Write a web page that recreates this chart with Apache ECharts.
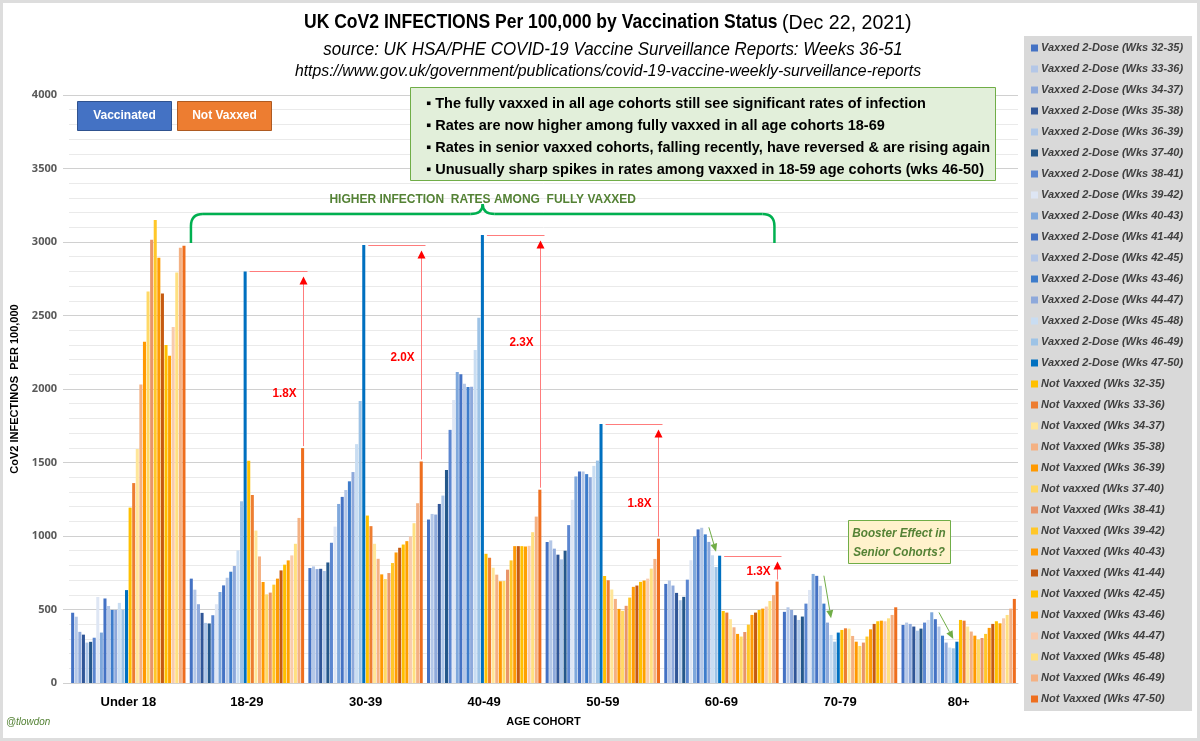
<!DOCTYPE html>
<html><head><meta charset="utf-8">
<script src="https://cdn.jsdelivr.net/npm/echarts@6/dist/echarts.min.js"></script>
<style>html,body{margin:0;padding:0;background:#fff}#c{width:1200px;height:741px}</style>
</head><body><div id="c"></div>
<script>
// ---------- DATA ----------
const cohorts = ['Under 18','18-29','30-39','40-49','50-59','60-69','70-79','80+'];
const vaxNames = ['Vaxxed 2-Dose (Wks 32-35)','Vaxxed 2-Dose (Wks 33-36)','Vaxxed 2-Dose (Wks 34-37)','Vaxxed 2-Dose (Wks 35-38)','Vaxxed 2-Dose (Wks 36-39)','Vaxxed 2-Dose (Wks 37-40)','Vaxxed 2-Dose (Wks 38-41)','Vaxxed 2-Dose (Wks 39-42)','Vaxxed 2-Dose (Wks 40-43)','Vaxxed 2-Dose (Wks 41-44)','Vaxxed 2-Dose (Wks 42-45)','Vaxxed 2-Dose (Wks 43-46)','Vaxxed 2-Dose (Wks 44-47)','Vaxxed 2-Dose (Wks 45-48)','Vaxxed 2-Dose (Wks 46-49)','Vaxxed 2-Dose (Wks 47-50)'];
const unvaxNames = ['Not Vaxxed (Wks 32-35)','Not Vaxxed (Wks 33-36)','Not Vaxxed (Wks 34-37)','Not Vaxxed (Wks 35-38)','Not Vaxxed (Wks 36-39)','Not vaxxed (Wks 37-40)','Not Vaxxed (Wks 38-41)','Not Vaxxed (Wks 39-42)','Not Vaxxed (Wks 40-43)','Not Vaxxed (Wks 41-44)','Not Vaxxed (Wks 42-45)','Not Vaxxed (Wks 43-46)','Not Vaxxed (Wks 44-47)','Not Vaxxed (Wks 45-48)','Not Vaxxed (Wks 46-49)','Not Vaxxed (Wks 47-50)'];

// values per cohort, one entry per 4-week window (Wks 32-35 ... 47-50)
const vaxU18   = [478, 451, 348, 329, 275, 280, 308, 585, 343, 575, 524, 497, 497, 545, 497, 632];
const unvaxU18 = [1193, 1360, 1592, 2030, 2321, 2664, 3015, 3150, 2893, 2650, 2300, 2227, 2421, 2793, 2961, 2974];
const vax1829   = [710, 635, 536, 477, 409, 405, 461, 536, 619, 664, 716, 757, 796, 902, 1236, 2800];
const unvax1829 = [1512, 1279, 1037, 861, 687, 603, 615, 669, 710, 766, 805, 834, 868, 947, 1123, 1598];
const vax3039   = [782, 793, 775, 777, 762, 820, 954, 1064, 1218, 1266, 1313, 1372, 1435, 1625, 1919, 2980];
const unvax3039 = [1139, 1067, 947, 845, 739, 707, 748, 816, 888, 920, 942, 965, 997, 1087, 1223, 1507];
const vax4049   = [1112, 1150, 1146, 1218, 1275, 1449, 1722, 1926, 2115, 2100, 2036, 2014, 2016, 2265, 2484, 3048];
const unvax4049 = [879, 852, 784, 737, 692, 694, 771, 834, 931, 931, 931, 929, 933, 1026, 1132, 1315];
const vax5059   = [959, 970, 914, 873, 841, 900, 1074, 1246, 1405, 1439, 1439, 1421, 1400, 1477, 1513, 1762];
const unvax5059 = [728, 699, 636, 572, 504, 491, 525, 581, 654, 663, 688, 697, 710, 778, 844, 982];
const vax6069   = [674, 697, 663, 613, 563, 586, 703, 835, 998, 1045, 1056, 1011, 960, 869, 789, 866];
const unvax6069 = [490, 479, 434, 379, 334, 316, 347, 397, 463, 479, 497, 506, 520, 558, 599, 690];
const vax7079   = [484, 515, 497, 461, 429, 452, 540, 633, 742, 729, 661, 540, 411, 327, 281, 343];
const unvax7079 = [361, 372, 370, 320, 281, 252, 275, 316, 365, 402, 420, 424, 420, 440, 463, 515];
const vax80     = [395, 411, 402, 384, 356, 370, 411, 429, 481, 434, 384, 322, 275, 241, 236, 281];
const unvax80   = [429, 424, 384, 350, 322, 297, 306, 334, 375, 402, 420, 406, 440, 463, 506, 572];

const ratioLabels = ['1.8X','2.0X','2.3X','1.8X','1.3X'];   // cohorts 18-29 .. 60-69

// ---------- STYLE ----------
const vaxColors = ['#4472C4','#B4C7E7','#8FAADC','#2F5597','#ADC6E8','#24578A','#5B86D0','#DEE6F4','#7FA8DC','#4472C4','#B4C7E7','#3D7CCB','#8EA9DB','#C9DDF2','#9DC3E6','#0070C0'];
const unvaxColors = ['#FFC000','#ED7D31','#FFE699','#F4B183','#FF9900','#FFD966','#E8956A','#FFC729','#FF9B05','#C55A11','#FFC000','#FFA000','#F8CBAD','#FFE080','#F4B183','#EE6E1E'];
const F = '"Liberation Sans",Arial,sans-serif';

const vaxByCohort = [vaxU18, vax1829, vax3039, vax4049, vax5059, vax6069, vax7079, vax80];
const unvaxByCohort = [unvaxU18, unvax1829, unvax3039, unvax4049, unvax5059, unvax6069, unvax7079, unvax80];

const series = [];
vaxNames.forEach((n, s) => series.push({name: n, type: 'bar', data: vaxByCohort.map(c => c[s]), itemStyle: {color: vaxColors[s]}, barGap: '18%', barCategoryGap: '3.6%', animation: false}));
unvaxNames.forEach((n, s) => series.push({name: n, type: 'bar', data: unvaxByCohort.map(c => c[s]), itemStyle: {color: unvaxColors[s]}, barGap: '18%', barCategoryGap: '3.6%', animation: false}));

const chart = echarts.init(document.getElementById('c'), null, {renderer: 'canvas'});
const option = {
  backgroundColor: '#fff',
  animation: false,
  grid: {left: 69, right: 182, top: 95, bottom: 58},
  legend: {
    orient: 'vertical', left: 1024, top: 36, selectedMode: false,
    backgroundColor: '#D9D9D9', padding: [5, 9, 5, 7],
    itemWidth: 7, itemHeight: 7, itemGap: 7, icon: 'rect',
    textStyle: {fontFamily: F, fontStyle: 'italic', fontWeight: 'bold', fontSize: 11, color: '#404040', lineHeight: 14, padding: [0,0,0,-2]},
    data: vaxNames.concat(unvaxNames)
  },
  xAxis: {
    type: 'category', data: cohorts,
    axisLine: {lineStyle: {color: '#D0D0D0'}}, axisTick: {show: false},
    axisLabel: {fontFamily: F, fontWeight: 'bold', fontSize: 13, color: '#000', margin: 13},
    name: 'AGE COHORT', nameLocation: 'middle', nameGap: 33,
    nameTextStyle: {fontFamily: F, fontWeight: 'bold', fontSize: 11, color: '#000'}
  },
  yAxis: {
    type: 'value', min: 0, max: 4000, interval: 500,
    axisLine: {show: false}, axisTick: {show: true, length: 6, lineStyle: {color: '#D0D0D0'}},
    axisLabel: {fontFamily: '"Open Sans",sans-serif', fontWeight: 'bold', fontSize: 11, color: '#595959', margin: 12, formatter: v => String(v)},
    splitLine: {lineStyle: {color: '#D0D0D0'}},
    minorTick: {show: false, splitNumber: 5},
    minorSplitLine: {show: true, lineStyle: {color: '#EAEAEA'}},
    name: 'CoV2 INFECTINOS  PER 100,000', nameLocation: 'middle', nameGap: 47,
    nameTextStyle: {fontFamily: F, fontWeight: 'bold', fontSize: 11, color: '#000'}
  },
  series: series
};
chart.setOption(option);

// ---------- ANNOTATIONS (positioned from the bar layout) ----------
const model = chart.getModel();
function lay(si, ci) {
  const l = model.getSeriesByIndex(si).getData().getItemLayout(ci);
  return {cx: l.x + l.width / 2, top: Math.min(l.y, l.y + l.height), left: l.x, right: l.x + l.width};
}
function yOf(v) { return chart.convertToPixel({yAxisIndex: 0}, v); }
function xOf(ci) { return chart.convertToPixel({xAxisIndex: 0}, ci); }
function txt(x, y, text, style, extra) {
  return Object.assign({type: 'text', x: x, y: y, style: Object.assign({x: 0, y: 0, text: text, textVerticalAlign: 'middle', fontFamily: F}, style)}, extra || {});
}

const g = [];
// page frame
g.push({type: 'rect', shape: {x: 1.5, y: 1.5, width: 1197, height: 738}, style: {fill: 'none', stroke: '#DDDDDD', lineWidth: 3}, silent: true});
// titles
g.push(txt(304, 22, 'UK CoV2 INFECTIONS Per 100,000 by Vaccination Status', {fontWeight: 'bold', fontSize: 21, fill: '#000'}, {scaleX: 0.835}));
g.push(txt(782, 23, '(Dec 22, 2021)', {fontSize: 20, fill: '#000'}, {scaleX: 0.98}));
g.push(txt(613, 50, 'source: UK HSA/PHE COVID-19 Vaccine Surveillance Reports: Weeks 36-51', {textAlign: 'center', fontStyle: 'italic', fontSize: 18, fill: '#000'}, {scaleX: 0.94}));
g.push(txt(608, 71, 'https://www.gov.uk/government/publications/covid-19-vaccine-weekly-surveillance-reports', {textAlign: 'center', fontStyle: 'italic', fontSize: 17, fill: '#000'}, {scaleX: 0.93}));
// vaccinated / not vaxxed boxes
g.push({type: 'rect', shape: {x: 77.5, y: 101.5, width: 94, height: 29}, style: {fill: '#4472C4', stroke: '#2F528F', lineWidth: 1}});
g.push(txt(124.5, 116, 'Vaccinated', {textAlign: 'center', fontWeight: 'bold', fontSize: 12, fill: '#fff'}));
g.push({type: 'rect', shape: {x: 177.5, y: 101.5, width: 94, height: 29}, style: {fill: '#ED7D31', stroke: '#AE5A21', lineWidth: 1}});
g.push(txt(224.5, 116, 'Not Vaxxed', {textAlign: 'center', fontWeight: 'bold', fontSize: 12, fill: '#fff'}));
// green notes box
g.push({type: 'rect', shape: {x: 410.5, y: 87.5, width: 585, height: 93}, style: {fill: '#E2EFDA', stroke: '#70AD47', lineWidth: 1}});
const notes = ['▪ The fully vaxxed in all age cohorts still see significant rates of infection',
  '▪ Rates are now higher among fully vaxxed in all age cohorts 18-69',
  '▪ Rates in senior vaxxed cohorts, falling recently, have reversed & are rising again',
  '▪ Unusually sharp spikes in rates among vaxxed in 18-59 age cohorts (wks 46-50)'];
notes.forEach((t, i) => g.push(txt(426, 104 + i * 22, t, {fontWeight: 'bold', fontSize: 14.5, fill: '#000'})));
// brace + label
const bx0 = xOf(1) - 56, bx1 = xOf(5) + 53, bxm = (bx0 + bx1) / 2;
g.push(txt(bxm, 200, 'HIGHER INFECTION  RATES AMONG  FULLY VAXXED', {textAlign: 'center', fontWeight: 'bold', fontSize: 12, fill: '#548235'}));
const bs = {fill: 'none', stroke: '#00B050', lineWidth: 2.5};
g.push({type: 'line', shape: {x1: bx0, y1: 243, x2: bx0, y2: 226}, style: bs});
g.push({type: 'bezierCurve', shape: {x1: bx0, y1: 226, cpx1: bx0, cpy1: 214, x2: bx0 + 12, y2: 214}, style: bs});
g.push({type: 'line', shape: {x1: bx0 + 12, y1: 214, x2: bxm - 12, y2: 214}, style: bs});
g.push({type: 'bezierCurve', shape: {x1: bxm - 12, y1: 214, cpx1: bxm, cpy1: 214, x2: bxm, y2: 204}, style: bs});
g.push({type: 'bezierCurve', shape: {x1: bxm, y1: 204, cpx1: bxm, cpy1: 214, x2: bxm + 12, y2: 214}, style: bs});
g.push({type: 'line', shape: {x1: bxm + 12, y1: 214, x2: bx1 - 12, y2: 214}, style: bs});
g.push({type: 'bezierCurve', shape: {x1: bx1 - 12, y1: 214, cpx1: bx1, cpy1: 214, x2: bx1, y2: 226}, style: bs});
g.push({type: 'line', shape: {x1: bx1, y1: 226, x2: bx1, y2: 243}, style: bs});
// red ratio arrows
const labelFrac = [0.69, 0.52, 0.42, 0.69, 0.62];
[1, 2, 3, 4, 5].forEach((ci, k) => {
  const v = lay(15, ci), u = lay(31, ci);
  const ty = Math.round(v.top) + 0.5, ax = Math.round(u.cx) + 0.5;
  g.push({type: 'line', shape: {x1: v.right + 3, y1: ty, x2: ax + 4, y2: ty}, style: {stroke: '#FF7C7C', lineWidth: 1}});
  g.push({type: 'line', shape: {x1: ax, y1: u.top - 2, x2: ax, y2: ty + 12}, style: {stroke: '#FF7C7C', lineWidth: 1}});
  g.push({type: 'polygon', shape: {points: [[ax, ty + 5], [ax - 4, ty + 13], [ax + 4, ty + 13]]}, style: {fill: '#FF0000'}});
  g.push(txt(ax - 19, v.top + labelFrac[k] * (u.top - v.top), ratioLabels[k], {textAlign: 'center', fontWeight: 'bold', fontSize: 13, fill: '#FF0000'}, {scaleX: 0.9}));
});
// booster arrows: [cohort, fromBar, fromValue, toBar, toValue]
const boosterArrows = [[5, 12, 1059, 14, 893], [6, 11, 730, 13, 440], [7, 10, 480, 14, 300]];
boosterArrows.forEach(a => {
  const x1 = lay(a[1], a[0]).cx, y1 = yOf(a[2]), x2 = lay(a[3], a[0]).cx, y2 = yOf(a[4]);
  const ang = Math.atan2(y2 - y1, x2 - x1), L = 8, W = 3.5;
  const bx = x2 - L * Math.cos(ang), by = y2 - L * Math.sin(ang);
  g.push({type: 'line', shape: {x1: x1, y1: y1, x2: bx, y2: by}, style: {stroke: '#70AD47', lineWidth: 1}});
  g.push({type: 'polygon', shape: {points: [[x2, y2], [bx - W * Math.sin(ang), by + W * Math.cos(ang)], [bx + W * Math.sin(ang), by - W * Math.cos(ang)]]}, style: {fill: '#70AD47'}});
});
// booster box
g.push({type: 'rect', shape: {x: 848.5, y: 520.5, width: 102, height: 43}, style: {fill: '#FFF2CC', stroke: '#70AD47', lineWidth: 1}});
g.push(txt(899, 533, 'Booster Effect in', {textAlign: 'center', fontStyle: 'italic', fontWeight: 'bold', fontSize: 13, fill: '#548235'}, {scaleX: 0.9}));
g.push(txt(899, 552, 'Senior Cohorts?', {textAlign: 'center', fontStyle: 'italic', fontWeight: 'bold', fontSize: 13, fill: '#548235'}, {scaleX: 0.9}));
// signature
g.push(txt(6, 722, '@tlowdon', {fontStyle: 'italic', fontSize: 11, fill: '#548235'}, {scaleX: 0.9}));

chart.setOption({graphic: g});
</script></body></html>
